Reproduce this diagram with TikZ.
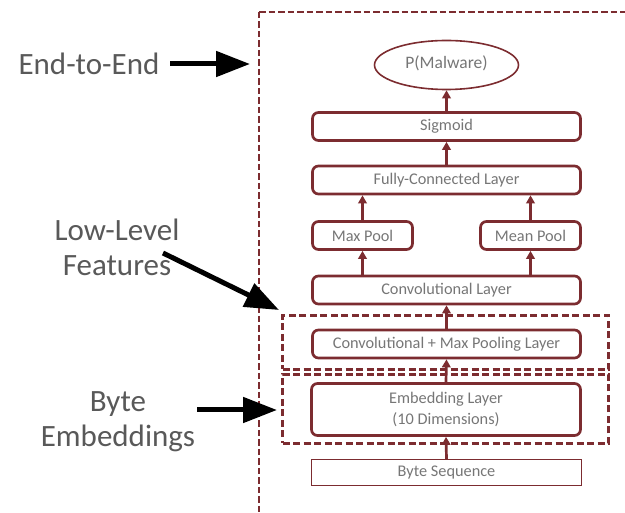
\documentclass[tikz,border=0pt]{standalone}
\usepackage{fontspec}
\setmainfont{Carlito}
\usetikzlibrary{arrows.meta,shapes.geometric}
\definecolor{maroon}{RGB}{124,44,48}
\definecolor{boxtext}{RGB}{118,118,118}
\definecolor{labtext}{RGB}{89,89,89}
\tikzset{
  layer/.style={draw=maroon, line width=2.7pt, rounded corners=6pt, text=boxtext,
    font=\fontsize{16.3}{21}\selectfont, inner sep=0pt, minimum height=28pt},
  plainlayer/.style={draw=maroon, line width=1.2pt, text=boxtext,
    font=\fontsize{16.3}{21}\selectfont, inner sep=0pt, minimum height=26pt, minimum width=270pt},
  groupbox/.style={draw=maroon, line width=2.2pt, dash pattern=on 7pt off 3.5pt, inner sep=0pt},
  flow/.style={draw=maroon, line width=2.7pt, -{Triangle[length=8pt,width=8.5pt]}},
  bigarrow/.style={draw=black, line width=5pt, -{Triangle[length=34pt,width=25pt]}},
  lab/.style={text=labtext, font=\fontsize{31}{35}\selectfont, align=center, inner sep=0pt}
}
\begin{document}
\begin{tikzpicture}[x=1pt,y=-1pt]
\useasboundingbox (0,0) rectangle (625,513);
\begin{scope}
\clip (0,0) rectangle (625,513);
\draw[draw=maroon, line width=1.8pt, dash pattern=on 6.5pt off 3pt] (259,12) -- (640,12) (259,12) -- (259,530);
\end{scope}

% group boxes
\node[groupbox, minimum width=326pt, minimum height=54pt] (lowbox) at (445.5,342.5) {};
\node[groupbox, minimum width=326pt, minimum height=69pt] (embbox) at (445.5,409) {};

% layers
\node[draw=maroon, line width=1.6pt, ellipse, minimum width=144pt, minimum height=49pt,
  text=boxtext, font=\fontsize{17.5}{20}\selectfont, inner sep=0pt] (out) at (446.5,65) {\raisebox{5pt}{P(Malware)}};
\node[layer, minimum width=268pt] (sig) at (446.5,126.5) {Sigmoid};
\node[layer, minimum width=268pt] (fc) at (446.5,180) {Fully-Connected Layer};
\node[layer, minimum width=100pt] (maxp) at (362.5,235.5) {Max Pool};
\node[layer, minimum width=100pt] (meanp) at (530.5,235.5) {Mean Pool};
\node[layer, minimum width=268pt] (conv) at (446.5,290) {Convolutional Layer};
\node[layer, minimum width=268pt] (convmp) at (446.5,344) {Convolutional + Max Pooling Layer};
\node[layer, minimum width=269pt, minimum height=52pt, align=center] (emb) at (446,409.5) {Embedding Layer\\(10 Dimensions)};
\node[plainlayer] (bytes) at (446.5,472.5) {Byte Sequence};

% flow arrows
\draw[flow] (bytes.north) -- (emb.south);
\draw[flow] (emb.north) -- (convmp.south);
\draw[flow] (convmp.north) -- (conv.south);
\draw[flow] (maxp.south |- conv.north) -- (maxp.south);
\draw[flow] (meanp.south |- conv.north) -- (meanp.south);
\draw[flow] (maxp.north) -- (maxp.north |- fc.south);
\draw[flow] (meanp.north) -- (meanp.north |- fc.south);
\draw[flow] (fc.north) -- (sig.south);
\draw[flow] (sig.north) -- (out.south);

% left labels
\node[lab] (e2e) at (89,64) {End-to-End};
\node[lab] (llf) at (117,247) {Low-Level\\Features};
\node[lab] (be) at (118,422) {Byte\\Embeddings};
\coordinate (e2eS) at (170,64);
\coordinate (e2eT) at (250,64);
\coordinate (llfS) at (163,253);
\coordinate (llfT) at (279,310);
\coordinate (beS) at (197,410);
\coordinate (beT) at (277,410);
\draw[bigarrow] (e2eS) -- (e2eT);
\draw[bigarrow] (llfS) -- (llfT);
\draw[bigarrow] (beS) -- (beT);
\end{tikzpicture}
\end{document}
